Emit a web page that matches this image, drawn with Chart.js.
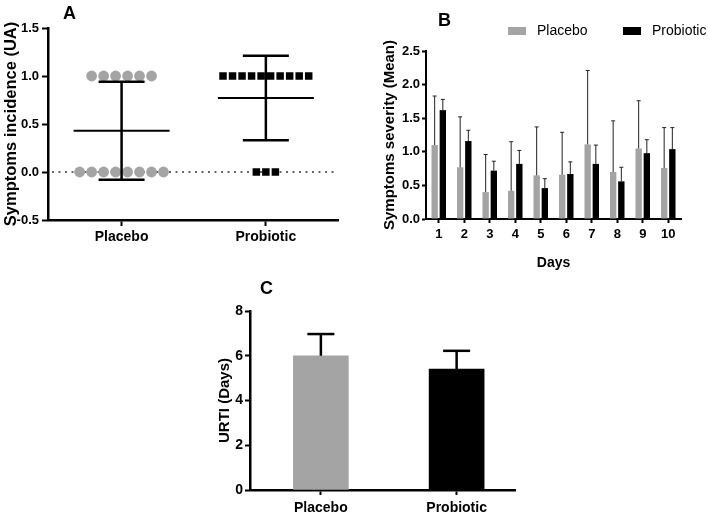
<!DOCTYPE html>
<html lang="en">
<head>
<meta charset="UTF-8">
<title>Symptoms incidence, severity and URTI days</title>
<script src="https://cdn.jsdelivr.net/npm/chart.js@4.4.0/dist/chart.umd.min.js"></script>
<style>
    body { margin: 0; background: #fff; }
    #page { position: relative; width: 708px; height: 514px; overflow: hidden; }
    .panel { position: absolute; }
</style>
</head>
<body>
<div id="page">
    <div class="panel" style="left:0;top:0;width:350px;height:250px"><canvas id="chartA"></canvas></div>
    <div class="panel" style="left:360px;top:0;width:348px;height:272px"><canvas id="chartB"></canvas></div>
    <div class="panel" style="left:200px;top:276px;width:330px;height:238px"><canvas id="chartC"></canvas></div>
</div>

<script>
const groups = ['Placebo', 'Probiotic'];

// A - symptoms incidence (individual subjects, mean and SD)
const placeboIncidence = [1, 1, 1, 1, 1, 1, 0, 0, 0, 0, 0, 0, 0, 0];
const probioticIncidence = [1, 1, 1, 1, 1, 1, 1, 1, 1, 1, 0, 0, 0];
const incidenceMean = [0.43, 0.77];
const incidenceSD = [0.51, 0.44];
const incidenceTicks = [-0.5, 0, 0.5, 1.0, 1.5];

// B - symptoms severity per day
const days = ['1', '2', '3', '4', '5', '6', '7', '8', '9', '10'];
const placeboSeverity = [1.10, 0.77, 0.40, 0.42, 0.65, 0.66, 1.11, 0.70, 1.05, 0.76];
const placeboSeveritySD = [0.73, 0.75, 0.56, 0.73, 0.72, 0.63, 1.10, 0.76, 0.71, 0.60];
const probioticSeverity = [1.62, 1.16, 0.72, 0.82, 0.46, 0.67, 0.82, 0.56, 0.98, 1.04];
const probioticSeveritySD = [0.16, 0.16, 0.14, 0.20, 0.14, 0.18, 0.28, 0.21, 0.20, 0.32];

// C - URTI days
const urtiMean = [6.0, 5.4];
const urtiSD = [0.97, 0.82];

const FONT = '"Liberation Sans", Arial, Helvetica, sans-serif';
const GREY = '#a4a4a4';
Chart.defaults.font.family = FONT;
Chart.defaults.color = '#000';

function line(ctx, x1, y1, x2, y2) {
    ctx.beginPath();
    ctx.moveTo(x1, y1);
    ctx.lineTo(x2, y2);
    ctx.stroke();
}

// spread the subjects of one group side by side around its position
function spread(values, center, step) {
    const pts = [];
    [1, 0].forEach(v => {
        const n = values.filter(d => d === v).length;
        for (let k = 0; k < n; k++) pts.push({ x: center + (k - (n - 1) / 2) * step, y: v });
    });
    return pts;
}

const panelLetter = {
    id: 'panelLetter',
    afterDraw(chart, args, opts) {
        const ctx = chart.ctx;
        ctx.save();
        ctx.font = 'bold 18px ' + FONT;
        ctx.fillStyle = '#000';
        ctx.fillText(opts.text, opts.x, opts.y);
        ctx.restore();
    }
};

const errorBars = {
    id: 'errorBars',
    afterDatasetsDraw(chart, args, opts) {
        const ctx = chart.ctx;
        const y = chart.scales.y;
        ctx.save();
        chart.data.datasets.forEach((ds, di) => {
            if (!ds.errors) return;
            chart.getDatasetMeta(di).data.forEach((bar, j) => {
                const v = chart.data.datasets[di].data[j];
                const val = typeof v === 'object' ? v.y : v;
                const top = y.getPixelForValue(val + ds.errors[j]);
                ctx.strokeStyle = opts.color || '#000';
                ctx.lineWidth = opts.lineWidth;
                line(ctx, bar.x, bar.y, bar.x, top);
                line(ctx, bar.x - opts.cap, top, bar.x + opts.cap, top);
            });
        });
        ctx.restore();
    }
};

const meanSd = {
    id: 'meanSd',
    beforeDatasetsDraw(chart) {
        const { ctx, chartArea, scales: { y } } = chart;
        const y0 = y.getPixelForValue(0);
        ctx.save();
        ctx.setLineDash([2, 4.5]);
        ctx.lineWidth = 1.5;
        ctx.strokeStyle = '#333';
        line(ctx, chartArea.left + 4, y0, chartArea.right - 4, y0);
        ctx.restore();
    },
    afterDatasetsDraw(chart) {
        const { ctx, scales: { x, y } } = chart;
        ctx.save();
        ctx.strokeStyle = '#000';
        incidenceMean.forEach((m, i) => {
            const cx = x.getPixelForValue(i + 1);
            const ym = y.getPixelForValue(m);
            const yt = y.getPixelForValue(m + incidenceSD[i]);
            const yb = y.getPixelForValue(m - incidenceSD[i]);
            ctx.lineWidth = 2.5;
            line(ctx, cx, yt, cx, yb);
            line(ctx, cx - 23, yt, cx + 23, yt);
            line(ctx, cx - 23, yb, cx + 23, yb);
            ctx.lineWidth = 2;
            line(ctx, cx - 48, ym, cx + 48, ym);
        });
        ctx.restore();
    }
};

const boxLegend = {
    id: 'boxLegend',
    afterDraw(chart, args, opts) {
        const ctx = chart.ctx;
        ctx.save();
        ctx.font = '14px ' + FONT;
        ctx.textBaseline = 'middle';
        chart.data.datasets.forEach((ds, i) => {
            const x = opts.x[i];
            ctx.fillStyle = ds.backgroundColor;
            ctx.fillRect(x, opts.y - 4, 18, 8);
            ctx.fillStyle = '#000';
            ctx.fillText(ds.label, x + 29, opts.y);
        });
        ctx.restore();
    }
};

function axisStyle(extra) {
    return Object.assign({
        grid: { display: true, drawOnChartArea: false, drawTicks: true, tickLength: 6, tickWidth: 2, tickColor: '#000' },
        border: { display: true, color: '#000', width: 2.5 }
    }, extra);
}

const common = {
    responsive: true,
    maintainAspectRatio: false,
    animation: false,
    events: []
};

// ---------- A ----------
new Chart(document.getElementById('chartA'), {
    type: 'scatter',
    data: {
        datasets: [
            {
                label: groups[0],
                data: spread(placeboIncidence, 1, 0.083),
                pointStyle: 'circle',
                pointRadius: 5.4,
                backgroundColor: GREY,
                borderWidth: 0
            },
            {
                label: groups[1],
                data: spread(probioticIncidence, 2, 0.066),
                pointStyle: 'rect',
                pointRadius: 5.3,
                backgroundColor: '#000',
                borderWidth: 0
            }
        ]
    },
    options: Object.assign({}, common, {
        layout: { padding: { top: 28, right: 12, left: 0, bottom: 0 } },
        plugins: {
            legend: { display: false },
            tooltip: { enabled: false },
            panelLetter: { text: 'A', x: 63, y: 19 }
        },
        scales: {
            x: axisStyle({
                type: 'linear',
                min: 0.49,
                max: 2.5,
                afterFit(s) { s.height = 30; },
                afterBuildTicks(s) { s.ticks = [{ value: 1 }, { value: 2 }]; },
                ticks: { padding: 3, maxRotation: 0, font: { size: 14, weight: 'bold' }, callback: v => groups[v - 1] }
            }),
            y: axisStyle({
                min: -0.5,
                max: 1.5,
                afterFit(s) { s.width = 48; },
                afterBuildTicks(s) { s.ticks = incidenceTicks.map(v => ({ value: v })); },
                ticks: { padding: 3, font: { size: 13, weight: 'bold' }, callback: v => v.toFixed(1) },
                title: { display: true, text: 'Symptoms incidence (UA)', font: { size: 16.5, weight: 'bold' }, padding: { top: 2, bottom: 0 } }
            })
        }
    }),
    plugins: [meanSd, panelLetter]
});

// ---------- B ----------
new Chart(document.getElementById('chartB'), {
    type: 'bar',
    data: {
        labels: days,
        datasets: [
            { label: groups[0], data: placeboSeverity, errors: placeboSeveritySD, backgroundColor: GREY },
            { label: groups[1], data: probioticSeverity, errors: probioticSeveritySD, backgroundColor: '#000' }
        ]
    },
    options: Object.assign({}, common, {
        categoryPercentage: 0.64,
        barPercentage: 0.78,
        layout: { padding: { top: 51, right: 27, left: 0, bottom: 0 } },
        plugins: {
            legend: { display: false },
            tooltip: { enabled: false },
            panelLetter: { text: 'B', x: 78, y: 26 },
            boxLegend: { x: [148, 263], y: 31 },
            errorBars: { lineWidth: 1, cap: 2, color: '#222' }
        },
        scales: {
            x: axisStyle({
                grid: { display: true, offset: false, drawOnChartArea: false, drawTicks: true, tickLength: 4, tickWidth: 2, tickColor: '#000' },
                border: { display: true, color: '#000', width: 2 },
                afterFit(s) { s.height = 53; },
                ticks: { padding: 4, font: { size: 13, weight: 'bold' } },
                title: { display: true, text: 'Days', font: { size: 14, weight: 'bold' }, padding: { top: 0, bottom: 0 } }
            }),
            y: axisStyle({
                grid: { display: true, drawOnChartArea: false, drawTicks: true, tickLength: 4, tickWidth: 2, tickColor: '#000' },
                border: { display: true, color: '#000', width: 2 },
                min: 0,
                max: 2.5,
                afterFit(s) { s.width = 66; },
                ticks: { stepSize: 0.5, padding: 2, font: { size: 13, weight: 'bold' }, callback: v => v.toFixed(1) },
                title: { display: true, text: 'Symptoms severity (Mean)', font: { size: 15, weight: 'bold' }, padding: { top: 21, bottom: 0 } }
            })
        }
    }),
    plugins: [errorBars, boxLegend, panelLetter]
});

// ---------- C ----------
new Chart(document.getElementById('chartC'), {
    type: 'bar',
    data: {
        datasets: [{
            label: 'URTI (Days)',
            data: urtiMean.map((v, i) => ({ x: i + 1, y: v })),
            errors: urtiSD,
            backgroundColor: [GREY, '#000'],
            barThickness: 55
        }]
    },
    options: Object.assign({}, common, {
        layout: { padding: { top: 35, right: 15, left: 0, bottom: 0 } },
        plugins: {
            legend: { display: false },
            tooltip: { enabled: false },
            panelLetter: { text: 'C', x: 60, y: 18 },
            errorBars: { lineWidth: 2.5, cap: 13.5, color: '#000' }
        },
        scales: {
            x: axisStyle({
                type: 'linear',
                offset: false,
                min: 0.478,
                max: 2.43,
                grid: { display: true, offset: false, drawOnChartArea: false, drawTicks: true, tickLength: 5, tickWidth: 2, tickColor: '#000' },
                afterFit(s) { s.height = 24; },
                afterBuildTicks(s) { s.ticks = [{ value: 1 }, { value: 2 }]; },
                ticks: { padding: 5, maxRotation: 0, font: { size: 14, weight: 'bold' }, callback: v => groups[v - 1] }
            }),
            y: axisStyle({
                min: 0,
                max: 8,
                grid: { display: true, drawOnChartArea: false, drawTicks: true, tickLength: 5, tickWidth: 2, tickColor: '#000' },
                afterFit(s) { s.width = 50; },
                ticks: { stepSize: 2, padding: 2, font: { size: 14, weight: 'bold' } },
                title: { display: true, text: 'URTI (Days)', font: { size: 15, weight: 'bold' }, padding: { top: 16, bottom: 0 } }
            })
        }
    }),
    plugins: [errorBars, panelLetter]
});
</script>
</body>
</html>
